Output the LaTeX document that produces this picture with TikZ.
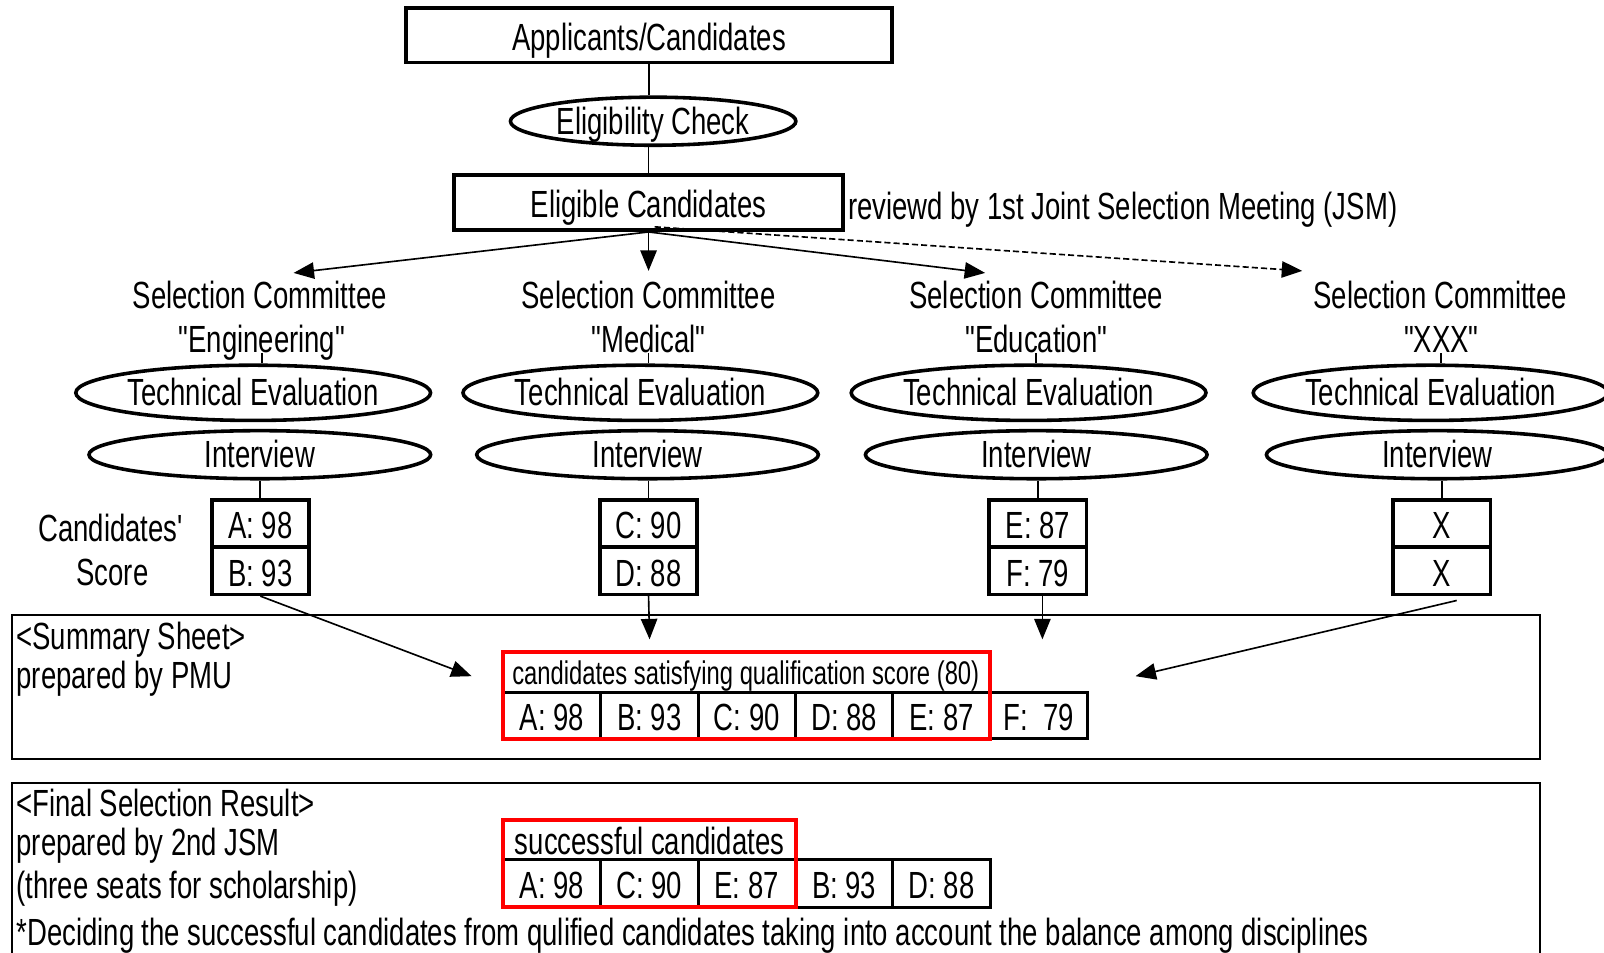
\documentclass[tikz,border=0pt]{standalone}
\usepackage{fontspec}
\setmainfont[FakeStretch=0.727, Ligatures=TeXOff]{Liberation Sans}
\usetikzlibrary{shapes.geometric,arrows.meta}
\begin{document}
\begin{tikzpicture}[x=1pt,y=-1pt,
  every node/.style={font=\fontsize{37}{43}\selectfont, inner sep=0pt,
    text height=30pt, text depth=0pt},
  small/.style={font=\fontsize{32}{38}\selectfont, text height=25pt},
  box/.style={draw, line width=3.5pt, minimum width=#1},
  oval/.style={draw, ellipse, line width=3.5pt, minimum width=#1, text height=25pt},
  cell/.style={draw, line width=3.5pt, minimum width=95, minimum height=46},
  seat/.style={draw, line width=3pt, minimum width=95.2, minimum height=45},
  redframe/.style={draw=red, line width=4pt},
  panel/.style={draw, line width=2pt},
  link/.style={line width=1.8pt},
  arr/.style={line width=1.6pt, -{Triangle[length=20pt,width=16pt]}},
  label/.style={anchor=base west, text height=, text depth=}
]
\useasboundingbox (0,0) rectangle (1568,931);
\clip (0,0) rectangle (1568,931);

% top of the flow
\node[box=475, minimum height=53] (app) at (634.5,34.5) {Applicants/Candidates};
\node[oval=279, minimum height=47] (elig) at (638.5,118.5) {Eligibility Check};
\node[box=380, minimum height=54] (ec) at (634,198) {Eligible Candidates};
\node[anchor=west] (rev) at (829,200) {reviewd by 1st Joint Selection Meeting (JSM)};
\draw[link] (app.south) -- (app.south |- elig.north);
\draw[link] (ec.north) -- (ec.north |- elig.south);

% committees (name line and discipline line)
\node (c1) at (254,287) {Selection Committee};
\node (c2) at (634,287) {Selection Committee};
\node (c3) at (1013,287) {Selection Committee};
\node (c4) at (1408,287) {Selection Committee};
\node (d1) at (256,330) {"Engineering"};
\node (d2) at (634,330) {"Medical"};
\node (d3) at (1013,330) {"Education"};
\node (d4) at (1409,330) {"XXX"};

\draw[arr] (ec.south) -- ([xshift=33,yshift=5]c1.north);
\draw[arr] (ec.south) -- ([yshift=7]c2.north);
\draw[arr] (ec.south) -- ([xshift=-50,yshift=5]c3.north);
\draw[arr, dash pattern=on 6pt off 3pt] ([xshift=6,yshift=5]ec.south) -- ([xshift=-135,yshift=7]c4.north);

% evaluation steps
\node[oval=343, minimum height=54] (te1) at (247.5,384) {Technical Evaluation};
\node[oval=346, minimum height=54] (te2) at (626,384) {Technical Evaluation};
\node[oval=345, minimum height=54] (te3) at (1005.5,384) {Technical Evaluation};
\node[oval=343, minimum height=54] (te4) at (1398.5,384) {Technical Evaluation};

\node[oval=334, minimum height=47] (iv1) at (254,444.5) {Interview};
\node[oval=334, minimum height=47] (iv2) at (633,444.5) {Interview};
\node[oval=334, minimum height=47] (iv3) at (1013,444.5) {Interview};
\node[oval=334, minimum height=47] (iv4) at (1405,444.5) {Interview};

\foreach \i in {1,2,3,4}
  \draw[link] (d\i.south) -- (d\i.south |- te\i.north);

% candidates' scores
\node (cs1) at (108,514) {Candidates'};
\node (cs2) at (110,557) {Score};

\node[cell] (s1a) at (254.5,511.5) {A: 98};
\node[cell] (s1b) at (254.5,558) {B: 93};
\node[cell] (s2a) at (634,511.5) {C: 90};
\node[cell] (s2b) at (634,558) {D: 88};
\node[cell] (s3a) at (1014.5,511.5) {E: 87};
\node[cell] (s3b) at (1014.5,558) {F: 79};
\node[cell] (s4a) at (1409.5,511.5) {X};
\node[cell] (s4b) at (1409.5,558) {X};

\foreach \i in {1,2,3,4}
  \draw[link] (s\i a.north) -- (s\i a.north |- iv\i.south);

% summary sheet
\draw[panel] (12,601) rectangle (1505,742);
\node[label] (sum1) at (16,635) {<Summary Sheet>};
\node[label] (sum2) at (16,673) {prepared by PMU};

\node[small] (qual) at (729,657) {candidates satisfying qualification score (80)};
\node[seat] (qa) at (539.6,699.5) {A: 98};
\node[seat] (qb) at (634.8,699.5) {B: 93};
\node[seat] (qc) at (730,699.5) {C: 90};
\node[seat] (qd) at (825.2,699.5) {D: 88};
\node[seat] (qe) at (920.4,699.5) {E: 87};
\node[seat] (qf) at (1015.6,699.5) {F:~ 79};
\draw[redframe] (492,637) rectangle (968,722);

\coordinate (in1) at (461,661);
\coordinate (in2) at (635,625);
\coordinate (in3) at (1019,625);
\coordinate (in4) at (1110,661);
\coordinate (out4) at (1424,587);
\draw[arr] (s1b.south) -- (in1);
\draw[arr] (s2b.south) -- (in2);
\draw[arr] ([xshift=4.5]s3b.south) -- (in3);
\draw[arr] (out4) -- (in4);

% final selection result
\draw[panel] (12,765) rectangle (1505,960);
\node[label] (fin1) at (16,798) {<Final Selection Result>};
\node[label] (fin2) at (16,836) {prepared by 2nd JSM};
\node[label] (fin3) at (16,878) {(three seats for scholarship)};
\node[label] (fin4) at (16,924) {*Deciding the successful candidates from qulified candidates taking into account the balance among disciplines};

\node (succ) at (635,820) {successful candidates};
\node[seat, minimum height=47] (fa) at (539.6,863.5) {A: 98};
\node[seat, minimum height=47] (fc) at (634.8,863.5) {C: 90};
\node[seat, minimum height=47] (fe) at (730,863.5) {E: 87};
\node[seat, minimum height=47] (fb) at (825.2,863.5) {B: 93};
\node[seat, minimum height=47] (fd) at (920.4,863.5) {D: 88};
\draw[redframe] (492,802) rectangle (778,887);
\end{tikzpicture}
\end{document}
